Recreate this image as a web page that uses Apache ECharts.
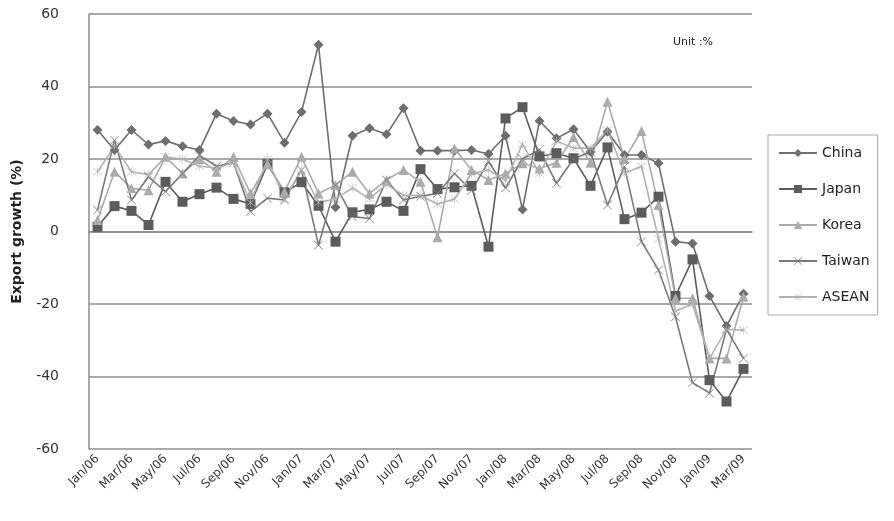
<!DOCTYPE html>
<html>
<head>
<meta charset="utf-8">
<script src="https://cdn.jsdelivr.net/npm/echarts@6/dist/echarts.min.js"></script>
<style>
  html, body { margin: 0; padding: 0; background: #fff; }
  #chart { width: 894px; height: 521px; }
</style>
</head>
<body>
<div id="chart"></div>
<script>
// Monthly export growth, Jan 2006 – Mar 2009 (%)
const months = [
  'Jan/06','Feb/06','Mar/06','Apr/06','May/06','Jun/06','Jul/06','Aug/06','Sep/06','Oct/06','Nov/06','Dec/06',
  'Jan/07','Feb/07','Mar/07','Apr/07','May/07','Jun/07','Jul/07','Aug/07','Sep/07','Oct/07','Nov/07','Dec/07',
  'Jan/08','Feb/08','Mar/08','Apr/08','May/08','Jun/08','Jul/08','Aug/08','Sep/08','Oct/08','Nov/08','Dec/08',
  'Jan/09','Feb/09','Mar/09'
];

const china = [
  28, 22.5, 28, 24, 25, 23.5, 22.5, 32.5, 30.5, 29.5, 32.5, 24.5,
  33, 51.5, 6.7, 26.4, 28.5, 26.8, 34, 22.3, 22.3, 22.3, 22.5, 21.4,
  26.4, 6.1, 30.5, 25.7, 28.2, 22, 27.5, 21.1, 21.1, 18.8, -2.8, -3.3,
  -17.8, -26.1, -17.2
];

const japan = [
  1.3, 7, 5.7, 1.8, 13.7, 8.2, 10.3, 12.1, 9, 7.6, 18.6, 10.8,
  13.6, 7.1, -2.8, 5.3, 6.1, 8.2, 5.7, 17.2, 11.7, 12.2, 12.6, -4.2,
  31.2, 34.3, 20.7, 21.6, 20.2, 12.6, 23.2, 3.4, 5.2, 9.6, -17.8, -7.7,
  -41, -46.9, -37.9
];

const korea = [
  3.2, 16.5, 11.9, 11.4, 20.6, 16, 20, 16.5, 20.6, 10.5, 18.6, 11,
  20.6, 10.5, 12.8, 16.5, 10.5, 14.2, 17, 13.7, -1.6, 22.9, 17, 14.2,
  16, 18.8, 17.4, 19, 26, 19, 35.8, 20, 27.7, 7.3, -18.4, -18.4,
  -35, -35, -18
];

const taiwan = [
  5.9, 25.2, 8.7, 15.1, 11, 16, 21, 18, 19, 5.5, 9.2, 8.7,
  17, -3.8, 12.8, 4.1, 3.6, 14.2, 8.7, 9.7, 10.5, 16, 11.3, 19.3,
  12, 20, 22.6, 13.3, 20, 22, 7.3, 17.9, -2.8, -10.6, -23.5, -41.7,
  -44.6, -27, -35
];

const asean = [
  16.5, 23.5, 16.5, 15.7, 20.6, 20, 18, 17.5, 19, 8, 20, 9,
  17, 8, 9, 12, 9, 13, 10, 10, 7.5, 9, 16, 17,
  14, 24.1, 16, 25, 23, 23, 28, 16, 18, -2, -22, -20,
  -35, -27, -27.2
];

const yTicks = { min: -60, max: 60, interval: 20 };

const crossPath = 'path://M1,0L10,9L19,0L20,1L11,10L20,19L19,20L10,11L1,20L0,19L9,10L0,1Z';
const starPath = 'path://M1,0L10,9L19,0L20,1L11,10L20,19L19,20L10,11L1,20L0,19L9,10L0,1Z' +
                 'M9.4,-2L10.6,-2L10.6,22L9.4,22Z';

function line(name, data, color, symbol, size) {
  return {
    name, type: 'line', data,
    symbol, symbolSize: size,
    showAllSymbol: true,
    lineStyle: { color, width: 1.6 },
    itemStyle: { color },
    emphasis: { disabled: true },
    animation: false
  };
}

const chart = echarts.init(document.getElementById('chart'), null, { renderer: 'canvas' });
chart.setOption({
  backgroundColor: '#ffffff',
  textStyle: { fontFamily: 'DejaVu Sans, Verdana, sans-serif' },
  grid: { left: 89, right: 142, top: 14, bottom: 72 },
  title: {
    text: 'Unit :%',
    left: 668, top: 32,
    textStyle: { fontSize: 11, fontWeight: 'normal', color: '#222' }
  },
  legend: {
    orient: 'vertical',
    left: 768, top: 135,
    width: 125,
    padding: [11, 8, 11, 10],
    itemGap: 22,
    itemWidth: 38, itemHeight: 10,
    borderColor: '#aaaaaa', borderWidth: 1,
    textStyle: { fontSize: 14, color: '#222', fontFamily: 'DejaVu Sans, Verdana, sans-serif' },
    data: ['China', 'Japan', 'Korea', 'Taiwan', 'ASEAN']
  },
  xAxis: {
    type: 'category',
    data: months,
    boundaryGap: true,
    axisLine: { lineStyle: { color: '#8c8c8c', width: 1.5 } },
    axisTick: { show: false },
    axisLabel: {
      interval: 1,
      rotate: 45,
      fontSize: 12,
      color: '#333',
      margin: 8
    },
    splitLine: { show: false }
  },
  yAxis: {
    type: 'value',
    min: yTicks.min, max: yTicks.max, interval: yTicks.interval,
    name: 'Export growth (%)',
    nameLocation: 'middle',
    nameGap: 65,
    nameRotate: 90,
    nameTextStyle: { fontSize: 14, fontWeight: 'bold', color: '#222' },
    axisLine: { show: true, lineStyle: { color: '#8c8c8c', width: 1.5 } },
    axisTick: { show: false },
    axisLabel: { fontSize: 14, color: '#333', margin: 30 },
    splitLine: { lineStyle: { color: '#8c8c8c', width: 1.5 } }
  },
  series: [
    line('China', china, '#6e6e6e', 'diamond', 10),
    line('Japan', japan, '#5c5c5c', 'rect', 10),
    line('Korea', korea, '#ababab', 'triangle', 10),
    line('Taiwan', taiwan, '#7a7a7a', crossPath, 9),
    line('ASEAN', asean, '#b3b3b3', starPath, 9)
  ]
});
</script>
</body>
</html>
